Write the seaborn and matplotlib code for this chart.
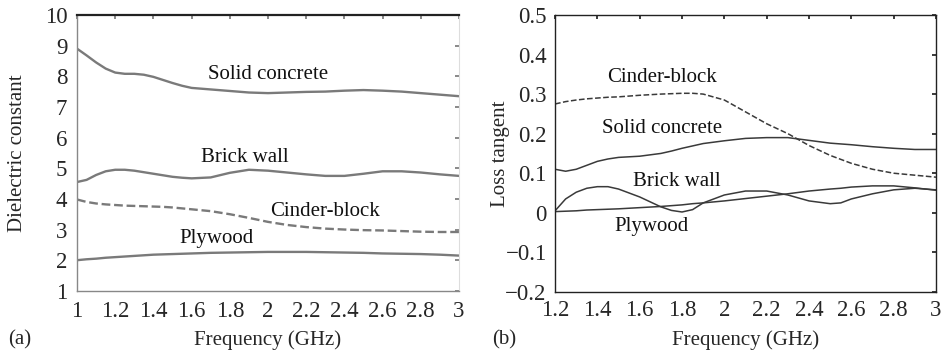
import matplotlib
matplotlib.use("Agg")
import matplotlib.pyplot as plt
import seaborn as sns
import pandas as pd

sns.set_theme(style="white")
plt.rcParams["font.family"] = ["Liberation Serif", "DejaVu Serif"]

# (a) dielectric constant, 1-3 GHz
freq_a = [1.0, 1.05, 1.1, 1.15, 1.2, 1.25, 1.3, 1.35, 1.4, 1.45, 1.5, 1.55, 1.6,
          1.7, 1.8, 1.9, 2.0, 2.1, 2.2, 2.3, 2.4, 2.5, 2.6, 2.7, 2.8, 2.9, 3.0]
eps_concrete = [8.9, 8.68, 8.45, 8.25, 8.12, 8.08, 8.08, 8.05, 7.98, 7.88, 7.78, 7.69, 7.62,
                7.57, 7.52, 7.47, 7.45, 7.47, 7.49, 7.5, 7.53, 7.55, 7.53, 7.5, 7.45, 7.4, 7.35]
eps_brick = [4.55, 4.62, 4.78, 4.9, 4.95, 4.95, 4.92, 4.87, 4.82, 4.77, 4.72, 4.69, 4.67,
             4.7, 4.85, 4.95, 4.92, 4.86, 4.8, 4.75, 4.75, 4.82, 4.9, 4.9, 4.86, 4.8, 4.75]
eps_cinder = [3.98, 3.9, 3.85, 3.82, 3.8, 3.78, 3.77, 3.76, 3.75, 3.74, 3.72, 3.69, 3.66,
              3.6, 3.5, 3.38, 3.25, 3.15, 3.08, 3.03, 3.0, 2.98, 2.97, 2.95, 2.93, 2.92, 2.92]
eps_plywood = [2.0, 2.03, 2.05, 2.08, 2.1, 2.12, 2.14, 2.16, 2.18, 2.19, 2.2, 2.21, 2.22,
               2.24, 2.25, 2.26, 2.27, 2.27, 2.27, 2.26, 2.25, 2.24, 2.22, 2.21, 2.2, 2.18, 2.15]

# (b) loss tangent, 1.2-3 GHz
freq_b = [1.2, 1.25, 1.3, 1.35, 1.4, 1.45, 1.5, 1.6, 1.7, 1.75, 1.8, 1.85, 1.9, 2.0,
          2.1, 2.2, 2.3, 2.4, 2.5, 2.55, 2.6, 2.7, 2.8, 2.9, 3.0]
tan_cinder = [0.275, 0.281, 0.285, 0.288, 0.29, 0.292, 0.293, 0.297, 0.3, 0.301, 0.302, 0.302,
              0.3, 0.285, 0.255, 0.225, 0.2, 0.17, 0.145, 0.135, 0.125, 0.11, 0.1, 0.095, 0.09]
tan_concrete = [0.11, 0.105, 0.11, 0.12, 0.13, 0.136, 0.14, 0.143, 0.15, 0.156, 0.163, 0.169,
                0.175, 0.182, 0.188, 0.19, 0.19, 0.183, 0.176, 0.174, 0.172, 0.167, 0.163, 0.16, 0.16]
tan_brick = [0.005, 0.035, 0.052, 0.062, 0.066, 0.066, 0.06, 0.04, 0.015, 0.006, 0.002, 0.008,
             0.025, 0.045, 0.055, 0.055, 0.045, 0.03, 0.023, 0.025, 0.035, 0.048, 0.058, 0.062, 0.058]
tan_plywood = [0.003, 0.004, 0.005, 0.007, 0.008, 0.009, 0.01, 0.013, 0.016, 0.018, 0.02, 0.023,
               0.025, 0.03, 0.036, 0.042, 0.048, 0.055, 0.06, 0.062, 0.065, 0.068, 0.068, 0.063, 0.057]

fig = plt.figure(figsize=(9.43, 3.56), dpi=100)
ax_a = fig.add_axes([0.0817, 0.183, 0.405, 0.775])
ax_b = fig.add_axes([0.5886, 0.180, 0.404, 0.778])

grey = "#7a7a7a"
dark = "#3a3a3a"

# ---- panel (a)
for vals, style in [(eps_concrete, "-"), (eps_brick, "-"),
                    (eps_cinder, "--"), (eps_plywood, "-")]:
    df = pd.DataFrame({"f": freq_a, "v": vals})
    sns.lineplot(data=df, x="f", y="v", ax=ax_a, color=grey, lw=1.7,
                 linestyle=style)

ax_a.set_xlim(1, 3)
ax_a.set_ylim(1, 10)
ax_a.set_xticks([1, 1.2, 1.4, 1.6, 1.8, 2, 2.2, 2.4, 2.6, 2.8, 3])
ax_a.set_xticklabels(["1", "1.2", "1.4", "1.6", "1.8", "2", "2.2", "2.4", "2.6", "2.8", "3"])
ax_a.set_yticks(range(1, 11))
ax_a.set_xlabel("")
ax_a.set_ylabel("Dielectric constant", fontsize=15)
ax_a.yaxis.set_label_coords(-0.131, 0.5)
ax_a.tick_params(direction="in", length=3, color=grey, labelsize=16.5,
                 top=True, right=True, pad=7)
for side, col, w in [("top", "#222222", 1.6), ("left", "#888888", 1.0),
                     ("bottom", "#888888", 1.0), ("right", "#dddddd", 0.8)]:
    ax_a.spines[side].set_color(col)
    ax_a.spines[side].set_linewidth(w)

txt = dict(fontsize=15, ha="center", va="center", color="#111111")
ax_a.text(2.0, 8.05, "Solid concrete", **txt)
ax_a.text(1.88, 5.34, "Brick wall", **txt)
ax_a.text(2.30, 3.58, "Cinder-block", **txt)
ax_a.text(1.73, 2.70, "Plywood", **txt)

# ---- panel (b)
for vals, style in [(tan_cinder, "--"), (tan_concrete, "-"),
                    (tan_brick, "-"), (tan_plywood, "-")]:
    df = pd.DataFrame({"f": freq_b, "v": vals})
    sns.lineplot(data=df, x="f", y="v", ax=ax_b, color=dark, lw=1.1,
                 linestyle=style)

ax_b.set_xlim(1.2, 3)
ax_b.set_ylim(-0.2, 0.5)
ax_b.set_xticks([1.2, 1.4, 1.6, 1.8, 2, 2.2, 2.4, 2.6, 2.8, 3])
ax_b.set_xticklabels(["1.2", "1.4", "1.6", "1.8", "2", "2.2", "2.4", "2.6", "2.8", "3"])
ax_b.set_yticks([-0.2, -0.1, 0, 0.1, 0.2, 0.3, 0.4, 0.5])
ax_b.set_yticklabels(["\u22120.2", "\u22120.1", "0", "0.1", "0.2", "0.3", "0.4", "0.5"])
ax_b.set_xlabel("")
ax_b.set_ylabel("Loss tangent", fontsize=15)
ax_b.yaxis.set_label_coords(-0.118, 0.5)
ax_b.tick_params(direction="in", length=3, color="#222222", labelsize=16.5,
                 top=True, right=True, pad=6)
for side in ["top", "left", "bottom", "right"]:
    ax_b.spines[side].set_color("#222222")
    ax_b.spines[side].set_linewidth(1.0)

ax_b.text(1.704, 0.342, "Cinder-block", **txt)
ax_b.text(1.705, 0.212, "Solid concrete", **txt)
ax_b.text(1.773, 0.080, "Brick wall", **txt)
ax_b.text(1.658, -0.035, "Plywood", **txt)

# axis captions and panel tags
fig.text(268 / 943, 1 - 340 / 356, "Frequency (GHz)", fontsize=15, ha="center", va="center")
fig.text(746 / 943, 1 - 340 / 356, "Frequency (GHz)", fontsize=15, ha="center", va="center")
fig.text(20 / 943, 1 - 340 / 356, "(a)", fontsize=15, ha="center", va="center")
fig.text(504 / 943, 1 - 340 / 356, "(b)", fontsize=15, ha="center", va="center")

fig.savefig("out.png", dpi=100)
